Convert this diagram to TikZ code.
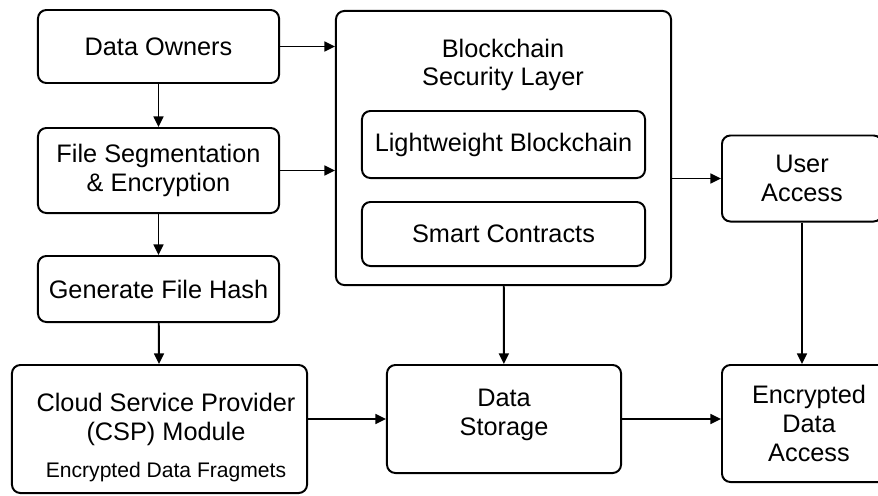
\documentclass[tikz,border=0pt]{standalone}
\usepackage{fontspec}
\setmainfont{Liberation Sans}
\usepackage{tikz}
\usetikzlibrary{positioning,arrows.meta}

\tikzset{
  box/.style={draw, line width=1.4pt, rounded corners=6pt, align=center,
    font=\fontsize{18}{20.5}\selectfont},
  txt/.style={align=center, font=\fontsize{18}{20.5}\selectfont},
  arr/.style={line width=1.4pt, -{Triangle[length=7.5pt,width=7pt]}},
}

\begin{document}
\begin{tikzpicture}[x=0.025cm, y=-0.025cm]
  \clip (0,0) rectangle (878,495);
  \fill[white] (0,0) rectangle (878,495);

  % Left column: owner side
  \node[box, minimum width=6.025cm, minimum height=1.825cm] (own) at (158.5,46.5) {Data Owners};
  \node[box, minimum width=6.025cm, minimum height=2.125cm] (seg) at (158.5,170.5) {File Segmentation\\\& Encryption};
  \node[box, minimum width=6.025cm, minimum height=1.65cm] (hash) at (158.5,289) {Generate File Hash};
  \node[box, minimum width=7.375cm, minimum height=3.2cm] (csp) at (159.5,429) {};
  \node[txt] (csptext) at (166,437.5)
    {Cloud Service Provider\\(CSP) Module\\[6pt]{\fontsize{15}{18}\selectfont Encrypted Data Fragmets}};

  % Blockchain layer with its two parts
  \node[box, minimum width=8.375cm, minimum height=6.85cm] (chain) at (503.5,148) {};
  \node[txt] (chaintitle) at (503,65) {Blockchain\\Security Layer};
  \node[box, minimum width=7.075cm, minimum height=1.675cm] (light) at (503.5,144.5) {Lightweight Blockchain};
  \node[box, minimum width=7.075cm, minimum height=1.6cm] (smart) at (503.5,234) {Smart Contracts};

  % Storage and access
  \node[box, minimum width=5.85cm, minimum height=2.7cm] (store) at (504,419) {Data\\Storage\\[-11pt]};
  \node[box, minimum width=4.0cm, minimum height=2.15cm] (user) at (802,178.5) {User\\Access};
  \node[box, minimum width=4.35cm, minimum height=2.925cm] (enc) at (809,423.5) {Encrypted\\Data\\Access};

  % Connectors
  \draw[arr] (own) -- (seg);
  \draw[arr] (seg) -- (hash);
  \draw[arr] (hash) -- (csp);
  \draw[arr] (own.east) -- (own.east -| chain.west);
  \draw[arr] (seg.east) -- (seg.east -| chain.west);
  \draw[arr] (chain.east |- user.west) -- (user.west);
  \draw[arr] (chain) -- (store);
  \draw[arr] (csp.east |- store.west) -- (store.west);
  \draw[arr] (store.east) -- (store.east -| enc.west);
  \draw[arr] (user.south) -- (user.south |- enc.north);
\end{tikzpicture}
\end{document}
